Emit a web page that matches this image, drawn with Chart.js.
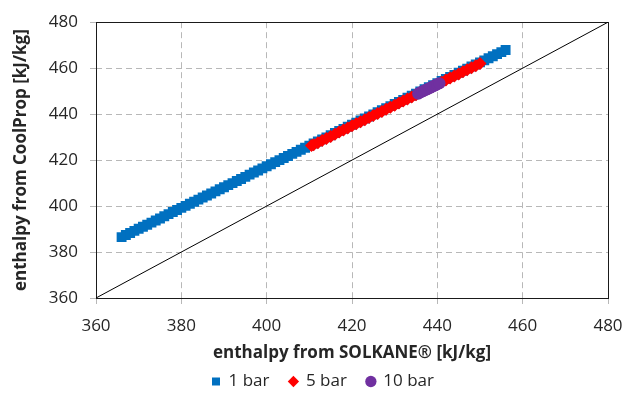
<!DOCTYPE html>
<html>
<head>
<meta charset="utf-8">
<script src="https://cdn.jsdelivr.net/npm/chart.js@4/dist/chart.umd.min.js"></script>
<style>
    body { margin: 0; background: #fff; }
    #wrap { width: 638px; height: 400px; position: relative; }
</style>
</head>
<body>
<div id="wrap"><canvas id="enthalpyChart"></canvas></div>
<script>
// --- Data ---
const axisTicks = [360, 380, 400, 420, 440, 460, 480];

const bar1X = [366, 367, 368, 369, 370, 371, 372, 373, 374, 375, 376, 377, 378, 379, 380, 381,
               382, 383, 384, 385, 386, 387, 388, 389, 390, 391, 392, 393, 394, 395, 396, 397,
               398, 399, 400, 401, 402, 403, 404, 405, 406, 407, 408, 409, 410, 411, 412, 413,
               414, 415, 416, 417, 418, 419, 420, 421, 422, 423, 424, 425, 426, 427, 428, 429,
               430, 431, 432, 433, 434, 435, 436, 437, 438, 439, 440, 441, 442, 443, 444, 445,
               446, 447, 448, 449, 450, 451, 452, 453, 454, 455, 456];
const bar1Y = [386.5, 387.4, 388.3, 389.2, 390.1, 391.0, 391.9, 392.8, 393.7, 394.6, 395.6, 396.5,
               397.4, 398.3, 399.2, 400.1, 401.0, 401.9, 402.8, 403.7, 404.6, 405.5, 406.4, 407.3,
               408.2, 409.1, 410.0, 410.9, 411.8, 412.7, 413.7, 414.6, 415.5, 416.4, 417.3, 418.2,
               419.1, 420.0, 420.9, 421.8, 422.7, 423.6, 424.5, 425.4, 426.3, 427.2, 428.1, 429.0,
               429.9, 430.8, 431.8, 432.7, 433.6, 434.5, 435.4, 436.3, 437.2, 438.1, 439.0, 439.9,
               440.8, 441.7, 442.6, 443.5, 444.4, 445.3, 446.2, 447.1, 448.0, 448.9, 449.9, 450.8,
               451.7, 452.6, 453.5, 454.4, 455.3, 456.2, 457.1, 458.0, 458.9, 459.8, 460.7, 461.6,
               462.5, 463.4, 464.3, 465.2, 466.1, 467.0, 467.9];

const bar5X = [410.5, 411, 412, 413, 414, 415, 416, 417, 418, 419, 420, 421, 422, 423, 424, 425,
               426, 427, 428, 429, 430, 431, 432, 433, 434, 435, 436, 437, 438, 439, 440, 441,
               442, 443, 444, 445, 446, 447, 448, 449, 450];
const bar5Y = [426.3, 426.7, 427.6, 428.5, 429.4, 430.3, 431.3, 432.2, 433.1, 434.0, 434.9, 435.8,
               436.7, 437.6, 438.5, 439.4, 440.3, 441.2, 442.1, 443.0, 443.9, 444.8, 445.7, 446.6,
               447.5, 448.4, 449.4, 450.3, 451.2, 452.1, 453.0, 453.9, 454.8, 455.7, 456.6, 457.5,
               458.4, 459.3, 460.2, 461.1, 462.0];

const bar10X = [435.5, 436, 436.5, 437, 437.5, 438, 438.5, 439, 439.5, 440, 440.5];
const bar10Y = [448.9, 449.4, 449.8, 450.3, 450.7, 451.2, 451.6, 452.1, 452.5, 453.0, 453.4];

const seriesNames = ['1 bar', '5 bar', '10 bar'];

document.addEventListener("DOMContentLoaded", () => {

    const toPoints = (xs, ys) => xs.map((x, i) => ({ x: x, y: ys[i] }));
    const lo = axisTicks[0];
    const hi = axisTicks[axisTicks.length - 1];
    const textColor = '#262626';
    const fontFamily = "'Open Sans', sans-serif";

    // plot frame (top and right edges too)
    const frame = {
        id: 'frame',
        beforeDatasetsDraw(chart) {
            const { ctx, chartArea: a } = chart;
            ctx.save();
            ctx.strokeStyle = '#1a1a1a';
            ctx.lineWidth = 1;
            ctx.strokeRect(Math.round(a.left) + 0.5, Math.round(a.top) + 0.5,
                Math.round(a.right - a.left), Math.round(a.bottom - a.top));
            ctx.restore();
        }
    };

    // centre the legend on the whole canvas, not on the padded box
    const legendShift = {
        id: 'legendShift',
        afterLayout(chart) {
            const lg = chart.legend;
            if (lg) { lg.left += 19; lg.right += 19; }
        }
    };

    const axis = (title, isY) => ({
        type: 'linear',
        min: lo,
        max: hi,
        afterFit: s => { if (isY) s.width = 96; else s.height = 55; },
        afterBuildTicks: s => { s.ticks = axisTicks.map(v => ({ value: v })); },
        grid: { color: '#b8b8b8', tickLength: 6 },
        border: { display: false, dash: [6, 4] },
        ticks: {
            color: textColor,
            padding: 12,
            font: { family: fontFamily, size: 17 }
        },
        title: {
            display: true,
            text: title,
            color: textColor,
            // x title sits below the fixed axis box, hence the negative padding
            padding: isY ? { top: 11, bottom: 0 } : { top: 0, bottom: -10 },
            font: { family: fontFamily, size: 17, weight: 'bold' }
        }
    });

    new Chart(document.getElementById('enthalpyChart'), {
        type: 'scatter',
        data: {
            datasets: [
                {
                    label: seriesNames[0],
                    data: toPoints(bar1X, bar1Y),
                    pointStyle: 'rect',
                    pointRadius: 7,
                    backgroundColor: '#0070c0',
                    borderColor: '#0070c0',
                    borderWidth: 0,
                    order: 2
                },
                {
                    label: seriesNames[1],
                    data: toPoints(bar5X, bar5Y),
                    pointStyle: 'rectRot',
                    pointRadius: 6.5,
                    backgroundColor: '#ff0000',
                    borderColor: '#ff0000',
                    borderWidth: 0,
                    order: 1
                },
                {
                    label: seriesNames[2],
                    data: toPoints(bar10X, bar10Y),
                    pointStyle: 'circle',
                    pointRadius: 6,
                    backgroundColor: '#7030a0',
                    borderColor: '#7030a0',
                    borderWidth: 0,
                    order: 0
                },
                {
                    label: 'y = x',
                    type: 'line',
                    data: [{ x: lo, y: lo }, { x: hi, y: hi }],
                    borderColor: '#000',
                    borderWidth: 1,
                    pointRadius: 0,
                    order: 3
                }
            ]
        },
        options: {
            responsive: true,
            maintainAspectRatio: false,
            animation: false,
            layout: { padding: { top: 18, right: 30, bottom: 5, left: 0 } },
            plugins: {
                tooltip: { enabled: false },
                legend: {
                    position: 'bottom',
                    maxHeight: 42,
                    labels: {
                        usePointStyle: true,
                        boxWidth: 8,
                        boxHeight: 8,
                        padding: 20,
                        color: textColor,
                        font: { family: fontFamily, size: 17 },
                        filter: item => item.datasetIndex < 3,
                        sort: (a, b) => a.datasetIndex - b.datasetIndex
                    }
                }
            },
            scales: {
                x: axis('enthalpy from SOLKANE® [kJ/kg]', false),
                y: axis('enthalpy from CoolProp [kJ/kg]', true)
            }
        },
        plugins: [frame, legendShift]
    });
});
</script>
</body>
</html>
